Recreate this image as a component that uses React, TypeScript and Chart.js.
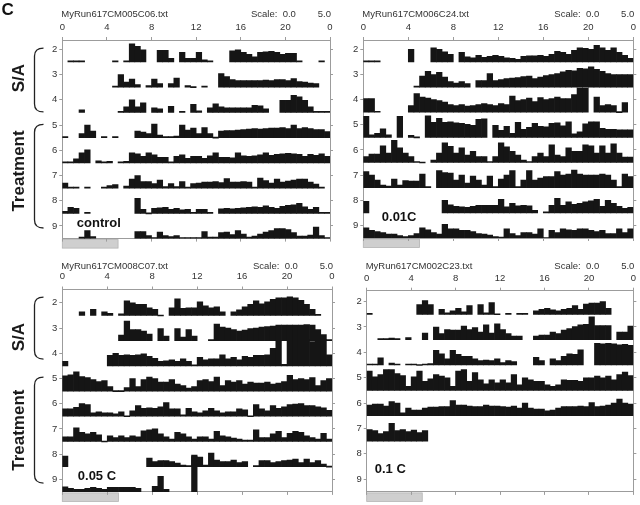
import React, { useEffect, useRef } from 'react';
import { Chart, registerables } from 'chart.js';

Chart.register(...registerables);

const _ = null;
type Row = (number | null)[];

// ---- axes / categories ----
const ROWS = [2, 3, 4, 5, 6, 7, 8, 9];
const HOUR_TICKS = [0, 4, 8, 12, 16, 20, 24];
const BIN_STARTS = Array.from({ length: 48 }, (__, i) => i / 2); // 30-min bins
const LIGHTS_ON = [0, 5];
const SCALE_MAX = 5.0; // "Scale: 0.0 5.0" -> full row height

// ---- MyRun617CM005C06 (control) ----
const c06_r2: Row = [
  _, 0, 0, 0.2, _, _, _, _, _, 0, _, 0.2,
  3.6, 3.1, 2.4, _, _, 2.3, 2.3, 0.7, _, 1.9, 0.7, 0.7,
  1.9, 0.4, 0, _, _, _, 2.2, 2.4, 1.9, 1.5, 1.0, 1.9,
  2.0, 2.1, 1.9, 1.5, 1.7, 1.7, 0, _, _, _, 0, _];
const c06_r3: Row = [
  _, _, _, _, _, _, _, _, _, 0, 2.5, 1.0,
  1.6, 0.5, _, 0.3, 1.6, 0.7, _, 0.7, 1.8, _, 0.3, 0.1,
  _, 0, _, _, 2.7, 2.1, 1.5, 1.3, 1.3, 1.3, 1.3, 1.3,
  1.4, 1.3, 1.5, 1.5, 1.3, 1.7, 1.1, 1.0, 0.8, 0.7, _, _];
const c06_r4: Row = [
  _, _, _, 0.5, _, _, _, _, _, _, 0.2, 1.1,
  2.5, 1.1, 1.9, _, 0.9, 0.7, _, 1.2, _, 0, _, 1.6,
  0.3, _, 0.9, 1.7, 1.1, 0.9, 0.9, 0.9, 0.9, 0.9, 1.4, 1.3,
  0.7, _, _, 2.4, 2.4, 3.4, 3.1, 2.4, 1.1, 0.2, 0.2, 0];
const c06_r5: Row = [
  0, _, _, 0.8, 2.5, 1.3, _, 0, _, 0, _, _,
  _, 1.3, 1.1, 0.8, 2.7, 0.5, 0, 0, 0.3, 2.5, 1.5, 1.9,
  0.8, 2.0, 0.8, 0.1, 1.3, 1.4, 1.4, 1.5, 1.6, 1.7, 1.8, 1.7,
  1.8, 1.9, 1.9, 2.0, 1.8, 2.5, 1.8, 2.0, 1.8, 1.6, 1.6, 1.2];
const c06_r6: Row = [
  0, 0, 0.8, 2.0, 2.6, _, 0.4, 0.2, 0.3, _, 0, 0.3,
  2.0, 1.8, 1.3, 2.0, 1.6, 1.1, 1.1, 0, 1.3, 1.6, 0.9, 1.3,
  1.3, 0.9, 1.4, 2.0, 1.1, 1.1, 1.0, 2.0, 1.4, 1.3, 1.4, 1.6,
  2.0, 1.5, 1.7, 1.8, 1.9, 1.8, 1.7, 1.3, 1.7, 1.5, 1.8, 1.3];
const c06_r7: Row = [
  1.0, 0, 0, _, 0, _, _, 0, 0.5, 0.7, _, 0.4,
  1.8, 2.5, 1.3, 1.3, 0.9, 1.6, 0.3, 0.9, 0.3, 1.3, 0, 0.9,
  1.0, 1.2, 1.2, 1.3, 1.1, 1.9, 1.2, 1.2, 1.3, 1.2, 0.2, 2.0,
  1.5, 1.0, 1.8, 1.2, 1.4, 1.6, 1.8, 1.8, 1.2, 0.8, 0, _];
const c06_r8: Row = [
  0.4, 1.2, 1.0, _, 0, _, _, _, _, _, _, _,
  _, 3.0, 0.8, 0.1, 1.0, 1.1, 1.2, 0.8, 1.0, 0.7, 0.8, 0.2,
  0.8, 0.8, 0, _, 0.9, 1.0, 0.9, 1.0, 1.1, 1.2, 1.3, 1.2,
  1.5, 1.2, 1.0, 1.4, 1.6, 1.7, 2.0, 1.3, 0.8, 1.2, 0, 0];
const c06_r9: Row = [
  _, _, _, 0.3, 1.6, 0.4, _, _, _, _, _, _,
  _, 1.4, 1.4, 0.6, 0, 1.3, 0.6, 0.4, 0.6, 0.2, 0, 0,
  0, 1.4, 0.3, 0.3, 1.2, 1.3, 0.8, 1.6, 0.9, 0.3, 0.5, 0.9,
  1.3, 1.6, 2.0, 2.0, 1.8, 1.2, 0.5, 0.5, 0.7, 2.3, 0.6, 0];

// ---- MyRun617CM006C24 (0.01C) ----
const c24_r2: Row = [
  0.2, 0, 0.2, _, _, _, _, _, 2.5, _, _, _,
  2.8, 2.5, 2.0, 1.5, _, 1.9, 1.0, 0.8, 1.3, 0.9, 1.1, 1.3,
  1.1, 0.8, 0.7, 0.5, 1.1, 1.2, 1.2, 1.3, 1.1, 1.5, 2.1, 1.9,
  1.5, 2.3, 2.8, 2.7, 2.5, 3.3, 2.8, 2.3, 2.8, 1.9, 1.3, 0.7];
const c24_r3: Row = [
  _, _, _, _, _, _, _, _, _, 0, 2.2, 3.1,
  2.5, 2.9, 2.0, 1.1, 0.8, 1.1, 0.7, _, 1.3, 1.3, 2.7, 1.3,
  1.5, 1.7, 1.8, 1.9, 2.1, 2.2, 1.7, 2.0, 2.3, 2.5, 2.7, 3.0,
  3.3, 3.2, 3.7, 3.6, 4.0, 3.5, 3.1, 2.7, 2.5, 2.5, 2.5, 2.5];
const c24_r4: Row = [
  2.7, 2.7, 0, _, _, _, _, _, 1.3, 3.7, 3.0, 2.8,
  2.5, 2.3, 2.0, 1.5, 1.3, 1.5, 1.2, 1.3, 1.5, 1.7, 1.5, 1.3,
  1.7, 1.5, 3.2, 2.3, 2.5, 2.8, 2.1, 2.9, 2.5, 2.7, 3.0, 2.7,
  2.7, 3.5, 4.8, 4.8, _, 3.0, 1.3, 1.5, 1.3, 0.1, 1.9, _];
const c24_r5: Row = [
  4.2, 0.5, 0.8, 1.7, 0.5, _, 4.2, _, 0.4, 0.1, _, 4.3,
  3.0, 3.8, 3.0, 3.1, 2.9, 2.8, 2.6, 2.4, 3.6, 3.7, _, 2.4,
  1.4, 2.2, 0.8, 3.0, 1.6, 2.0, 2.8, 2.2, 2.1, 2.8, 2.9, 2.3,
  3.1, 0.7, 1.1, 2.7, 3.1, 3.1, 1.8, 1.6, 1.6, 1.5, 1.5, 1.5];
const c24_r6: Row = [
  1.2, 1.7, 1.7, 3.3, 1.9, 4.4, 2.9, 1.9, 1.2, 0.2, 0.1, _,
  0.5, 1.9, 3.9, 3.2, 1.9, 2.9, 1.5, 2.2, 1.2, 1.2, 0.2, 1.2,
  3.9, 3.1, 2.2, 1.5, 0.5, 0.2, 1.2, 1.9, 1.2, 3.5, 1.5, 1.2,
  2.9, 2.2, 2.2, 3.5, 3.3, 1.9, 3.3, 1.9, 3.7, 1.9, 1.1, 1.1];
const c24_r7: Row = [
  3.2, 2.5, 1.5, 0.5, 0.3, 1.7, 0.5, 1.4, 1.3, 1.3, 2.7, 0.2,
  _, 3.4, 3.0, 2.9, 1.5, 2.5, 0.9, 2.3, 1.5, 0.5, 2.3, 0.2,
  1.7, 2.5, 3.4, 0.2, 1.5, 3.4, 1.5, 1.9, 2.2, 2.2, 3.2, 2.5,
  2.7, 3.5, 2.7, 2.5, 2.5, 2.5, 2.7, 2.5, 1.5, 0.2, 2.7, 2.2];
const c24_r8: Row = [
  2.3, _, _, _, _, _, _, _, _, _, _, _,
  _, _, 2.5, 1.6, 1.3, 1.2, 1.1, 1.3, 1.5, 1.5, 1.5, 1.5,
  2.7, 1.2, 1.9, 1.4, 1.5, 1.4, 0.5, _, 0, 1.5, 2.9, 1.5,
  2.2, 1.7, 1.9, 2.2, 2.4, 2.7, 1.3, 2.5, 1.9, 1.3, 0.9, 1.1];
const c24_r9: Row = [
  2.0, 1.5, 1.3, 1.1, 0.8, 0.8, 0.5, 0.3, 0.5, 0.9, 2.0, 1.6,
  1.1, 0.8, 2.7, 1.8, 1.8, 1.5, 1.5, 1.3, 0.9, 0.8, 0.6, 0.3,
  0, 1.8, 0.9, 0.5, 1.1, 1.1, 0.8, 1.8, 0.1, 1.5, 1.1, 1.8,
  1.6, 1.5, 1.8, 1.8, 1.5, 1.3, 1.5, 0.9, 0.9, 1.8, 1.1, 1.8];

// ---- MyRun617CM008C07 (0.05 C) ----
const c07_r2: Row = [
  _, _, _, 0.7, _, 1.2, _, 0.7, 0.4, _, 0.3, 2.9,
  2.5, 2.2, 2.2, 1.5, 1.2, 0.1, _, 1.5, 3.3, 1.4, 1.5, 1.5,
  2.7, 1.9, 1.5, 1.7, 0.7, _, 0.7, 1.1, 1.7, 2.2, 2.9, 2.3,
  2.7, 3.2, 3.5, 3.5, 3.7, 3.5, 3.0, 2.2, 1.2, 0.2, _, _];
const c07_r3: Row = [
  _, _, _, _, _, _, _, _, _, _, 1.1, 3.9,
  2.2, 2.2, 1.9, 1.3, _, 2.4, 0.9, _, 2.4, 0.7, 2.2, 0.9,
  _, _, 0, 3.3, 2.7, 2.5, 2.2, 1.9, 2.1, 2.4, 2.5, 2.7,
  2.8, 2.9, 3.1, 3.1, 3.1, 3.1, 3.1, 3.2, 3.1, 2.2, 1.2, 0];
const c07_r4: Row = [
  0.9, _, _, _, _, _, _, _, 2.1, 2.5, 2.1, 2.2,
  2.1, 2.2, 2.4, 1.9, 1.5, 0.9, 1.0, 1.2, 0.9, 1.4, 0.9, 0,
  1.7, 1.2, 1.4, 1.4, 2.2, 1.4, 1.7, 1.2, 1.9, 1.7, 2.1, 2.1,
  2.2, 3.5, 5.0, 0.3, 5.2, 5.2, 5.2, 5.2, 4.8, 5.2, 5.2, 2.2];
const c07_r5: Row = [
  3.0, 3.2, 3.8, 2.9, 2.7, 2.3, 1.9, 2.1, 0.9, 0.1, 0.1, 0.7,
  2.5, 0.9, 2.3, 2.8, 2.5, 1.8, 1.8, 2.3, 1.4, 1.1, 0.6, 0.9,
  2.1, 2.3, 1.9, 2.8, 1.1, 2.1, 1.8, 2.1, 1.4, 1.8, 1.6, 1.6,
  1.8, 1.4, 1.6, 1.9, 3.1, 2.3, 2.5, 2.3, 2.7, 1.1, 2.1, 2.5];
const c07_r6: Row = [
  1.5, 1.5, 1.8, 2.5, 2.3, 0.7, 0.9, 0.7, 0.7, 0.5, 0.9, 0.1,
  1.1, 2.1, 1.6, 1.7, 1.6, 1.9, 2.7, 1.5, 1.5, 0.3, 1.6, 0.9,
  0.7, 1.1, 1.6, 1.1, 0.7, 0.9, 0.9, 1.5, 1.3, 0.1, 2.3, 1.5,
  1.1, 2.1, 1.6, 1.9, 2.3, 2.4, 2.5, 2.1, 2.1, 1.9, 1.7, 1.2];
const c07_r7: Row = [
  0.9, 0.9, 2.7, 1.8, 1.5, 1.8, 1.3, 0.1, 1.1, 0.8, 1.1, 0.8,
  1.1, 0.9, 2.1, 2.3, 2.5, 1.5, 0.9, 0.5, 1.8, 1.5, 0.9, 0.5,
  0.9, 0.9, 0.5, 2.0, 1.1, 0.9, 0.7, 0.5, 0.3, 0.3, 2.3, 0.8,
  0.8, 1.5, 2.0, 0.8, 1.6, 2.0, 1.8, 1.1, 0.8, 0.5, 1.6, 0.5];
const c07_r8: Row = [
  2.1, _, _, _, _, _, _, _, _, _, _, _,
  _, _, _, 1.7, 1.0, 1.2, 1.2, 1.0, 0.7, 0.3, 0, 2.0,
  1.9, 0.3, 2.7, 1.3, 1.0, 1.0, 1.3, 0.8, 1.0, _, 0, 1.2,
  1.2, 0.8, 1.0, 1.2, 1.3, 1.5, 0.8, 1.5, 0.8, 1.2, 0.5, 0.1];
const c07_r9: Row = [
  1.0, 0.7, 0.5, 0.5, 0.7, 0.9, 0.7, 0.5, 0.9, 0.9, 0.9, 0.9,
  0.9, 0.7, _, _, 1.1, 3.1, 0.5, _, _, _, _, 7.3];

// ---- MyRun617CM002C23 (0.1 C) ----
const c23_r2: Row = [
  0.2, _, _, _, _, _, _, _, _, 1.9, 2.7, 1.9,
  _, 1.0, 0.3, 0.7, 1.2, 0.5, 1.7, _, 1.9, 0.3, 2.3, 0.1,
  _, 0.2, _, 0.2, 0.2, _, 0.7, 1.0, 1.2, 0.9, 0.7, 1.0,
  1.2, 1.7, 1.0, 2.0, 2.2, 2.2, 2.5, 1.2, _, _, _, _];
const c23_r3: Row = [
  _, _, 0, 0.2, 0.3, 0.2, _, 0.4, _, _, 1.3, _,
  2.5, 1.2, 2.0, 1.9, 1.9, 2.7, 2.0, 2.4, 1.5, 2.9, 1.3, 3.1,
  2.0, 1.2, 0.7, 0.7, _, _, 0.7, 0.9, 0.9, 1.5, 1.2, 1.9,
  2.2, 2.6, 2.9, 3.0, 4.5, 2.8, 2.8, 2.8, _, 1.5, 1.5, 2.7];
const c23_r4: Row = [
  0, 0, 1.4, _, 0.4, 0.2, _, 0, 0, 0.1, 0.2, 0.3,
  2.9, 2.2, 1.2, 2.9, 2.1, 1.7, 1.7, 1.2, 0.9, 1.0, 0.9, 1.2,
  0.5, 0.9, 0.7, _, _, _, 1.5, 0.9, _, 1.2, 0.9, 1.7,
  2.2, 2.1, 3.0, _, _, 4.3, 4.2, 4.3, 4.2, 4.0, 4.1, 3.9];
const c23_r5: Row = [
  3.8, 2.7, 3.1, 4.1, 4.1, 3.3, 2.9, 0.8, 2.7, 3.8, 1.8, 2.3,
  3.1, 2.8, 2.5, 0.8, 3.8, 4.1, 1.8, 3.5, 2.1, 1.3, 2.1, 1.5,
  2.1, 1.5, 3.1, 1.1, 2.5, 2.1, 1.8, 1.8, 1.1, 0.8, 1.1, 2.1,
  2.0, 2.0, 1.8, 2.5, 2.5, 2.8, 2.5, 2.8, 2.1, 3.1, 3.6, 2.9];
const c23_r6: Row = [
  2.1, 2.3, 2.3, 1.9, 2.8, 2.5, 0.6, 1.5, 1.1, 1.1, 1.5, 1.7,
  1.7, 1.8, 1.8, 3.0, 2.1, 2.1, 1.9, 1.8, 1.8, 2.1, 1.9, 1.9,
  1.8, 1.7, 1.9, 1.5, 2.5, 1.5, 1.3, 1.3, 1.0, 1.1, 1.5, 1.8,
  1.8, 1.8, 1.9, 1.8, 2.6, 1.8, 1.9, 2.1, 2.5, 3.3, 2.5, 2.3];
const c23_r7: Row = [2.3, 2.1, 1.5, 1.9, 3.5, 2.1, 2.3, 1.9, 2.2, 1.7, 2.1];
const c23_r8: Row = [];
const c23_r9: Row = [];

// ---- styling ----
const FONT = '"Liberation Sans", Arial, Helvetica, sans-serif';
const AXIS = '#9c9c9c';
const INK = '#151515';
const TEXT = '#333333';

interface Group { text: string; mid: number; from: number; to: number }
interface Panel {
  title: string;
  tag: string;
  rows: Row[];
  yMin: number;
  box: { x: number; y: number; w: number; h: number };
  area: { l: number; r: number; t: number; b: number };
  tagAt: { dx: number; dy: number };
  groups?: Group[];
  corner?: string;
}

const PANELS: Panel[] = [
  {
    title: 'MyRun617CM005C06.txt', tag: 'control',
    rows: [c06_r2, c06_r3, c06_r4, c06_r5, c06_r6, c06_r7, c06_r8, c06_r9],
    yMin: 1.63,
    box: { x: 0, y: 0, w: 345, h: 252 },
    area: { l: 62.3, r: 330, t: 40, b: 238.6 },
    tagAt: { dx: 14.5, dy: 183 },
    groups: [
      { text: 'S/A', mid: 3.14, from: 1.95, to: 4.48 },
      { text: 'Treatment', mid: 6.82, from: 4.97, to: 9.08 },
    ],
    corner: 'C',
  },
  {
    title: 'MyRun617CM006C24.txt', tag: '0.01C',
    rows: [c24_r2, c24_r3, c24_r4, c24_r5, c24_r6, c24_r7, c24_r8, c24_r9],
    yMin: 1.63,
    box: { x: 330, y: 0, w: 310, h: 252 },
    area: { l: 363.3, r: 633.3, t: 40, b: 238 },
    tagAt: { dx: 18.5, dy: 177 },
  },
  {
    title: 'MyRun617CM008C07.txt', tag: '0.05 C',
    rows: [c07_r2, c07_r3, c07_r4, c07_r5, c07_r6, c07_r7, c07_r8, c07_r9],
    yMin: 1.47,
    box: { x: 0, y: 252, w: 345, h: 253 },
    area: { l: 62.3, r: 332, t: 289.5, b: 491.9 },
    tagAt: { dx: 15.5, dy: 187 },
    groups: [
      { text: 'S/A', mid: 3.36, from: 1.77, to: 4.23 },
      { text: 'Treatment', mid: 7.05, from: 4.95, to: 9.15 },
    ],
  },
  {
    title: 'MyRun617CM002C23.txt', tag: '0.1 C',
    rows: [c23_r2, c23_r3, c23_r4, c23_r5, c23_r6, c23_r7, c23_r8, c23_r9],
    yMin: 1.57,
    box: { x: 330, y: 252, w: 310, h: 253 },
    area: { l: 366.7, r: 635, t: 290.7, b: 491.9 },
    tagAt: { dx: 8, dy: 178.5 },
  },
];

function drawBrace(ctx: CanvasRenderingContext2D, x: number, y0: number, y1: number) {
  ctx.beginPath();
  ctx.moveTo(x + 9, y0);
  ctx.quadraticCurveTo(x, y0, x, y0 + 8);
  ctx.lineTo(x, y1 - 8);
  ctx.quadraticCurveTo(x, y1, x + 9, y1);
  ctx.stroke();
}

function ActogramPanel({ p }: { p: Panel }) {
  const ref = useRef<HTMLCanvasElement | null>(null);

  useEffect(() => {
    const canvas = ref.current;
    if (!canvas) return;
    const YL = 18, YR = 5, XT = 22, XB = 12;
    const padding = {
      left: p.area.l - p.box.x - YL,
      right: p.box.x + p.box.w - p.area.r - YR,
      top: p.area.t - p.box.y - XT,
      bottom: p.box.y + p.box.h - p.area.b - XB,
    };

    const datasets = ROWS.map((row, i) => {
      const vals = p.rows[i];
      const base = row + 0.5;
      return {
        type: 'bar',
        label: String(row),
        xAxisID: 'x',
        yAxisID: 'y',
        data: BIN_STARTS.map((h, j) => {
          const v = vals[j];
          return { x: h + 0.25, y: v == null ? null : [base, base - v / SCALE_MAX] };
        }),
        backgroundColor: INK,
        borderWidth: 0,
        grouped: false,
        barPercentage: 1,
        categoryPercentage: 1,
        minBarLength: 1,
        inflateAmount: 0.33,
      };
    });

    const extras = {
      id: 'extras',
      beforeDraw(chart: any) {
        const { ctx, chartArea: a } = chart;
        const xs = chart.scales.x;
        const x0 = xs.getPixelForValue(LIGHTS_ON[0]);
        const x1 = xs.getPixelForValue(LIGHTS_ON[1]);
        ctx.save();
        ctx.fillStyle = '#cfcfcf';
        ctx.fillRect(x0, a.bottom + 1, x1 - x0, 8.5);
        ctx.strokeStyle = '#b4b4b4';
        ctx.lineWidth = 0.8;
        ctx.strokeRect(x0, a.bottom + 1, x1 - x0, 8.5);
        ctx.restore();
      },
      afterDraw(chart: any) {
        const { ctx, chartArea: a } = chart;
        const ys = chart.scales.y;
        ctx.save();
        ctx.textBaseline = 'middle';
        ctx.fillStyle = TEXT;
        ctx.font = `9.5px ${FONT}`;
        ctx.textAlign = 'left';
        ctx.fillText(p.title, a.left - 1, 14);
        ctx.fillText('Scale:  0.0', a.right - 79, 14);
        ctx.textAlign = 'right';
        ctx.fillText('5.0', a.right + 1, 14);

        ctx.fillStyle = '#111';
        ctx.font = `bold 13px ${FONT}`;
        ctx.textAlign = 'left';
        ctx.fillText(p.tag, a.left + p.tagAt.dx, a.top + p.tagAt.dy);

        if (p.groups) {
          ctx.strokeStyle = '#222';
          ctx.lineWidth = 1.3;
          for (const g of p.groups) {
            drawBrace(ctx, 34.5, ys.getPixelForValue(g.from), ys.getPixelForValue(g.to));
            ctx.save();
            ctx.translate(19.5, ys.getPixelForValue(g.mid));
            ctx.rotate(-Math.PI / 2);
            ctx.font = `bold 17px ${FONT}`;
            ctx.fillStyle = '#1a1a1a';
            ctx.textAlign = 'center';
            ctx.textBaseline = 'middle';
            ctx.fillText(g.text, 0, 0);
            ctx.restore();
          }
        }
        if (p.corner) {
          ctx.font = `bold 17px ${FONT}`;
          ctx.fillStyle = '#111';
          ctx.textAlign = 'left';
          ctx.fillText(p.corner, 1.5, 10);
        }
        ctx.restore();
      },
    };

    const tickFont = { family: FONT, size: 9.5 };
    const hourTicks = (s: any) => { s.ticks = HOUR_TICKS.map((v) => ({ value: v })); };
    const rowTicks = (s: any) => { s.ticks = ROWS.map((v) => ({ value: v })); };
    const grid = { drawOnChartArea: false, drawTicks: true, tickLength: 3, color: AXIS, lineWidth: 1, offset: false };
    const border = { display: true, color: AXIS, width: 1 };

    const chart = new Chart(canvas, {
      type: 'bar',
      data: { datasets } as any,
      options: {
        animation: false,
        responsive: false,
        maintainAspectRatio: false,
        devicePixelRatio: 1,
        events: [],
        layout: { padding },
        plugins: { legend: { display: false }, tooltip: { enabled: false } },
        scales: {
          x: {
            type: 'linear', position: 'top', min: 0, max: 24, offset: false,
            afterBuildTicks: hourTicks,
            afterFit: (s: any) => { s.height = XT; },
            ticks: {
              autoSkip: false, maxRotation: 0, padding: 4, font: tickFont, color: TEXT,
              callback: (v: any) => (v === 24 ? '0' : String(v)),
            },
            grid, border,
          },
          xb: {
            type: 'linear', position: 'bottom', min: 0, max: 24, offset: false,
            afterBuildTicks: hourTicks,
            afterFit: (s: any) => { s.height = XB; },
            ticks: { display: false },
            grid, border,
          },
          y: {
            type: 'linear', position: 'left', reverse: true, min: p.yMin, max: 9.5,
            afterBuildTicks: rowTicks,
            afterFit: (s: any) => { s.width = YL; },
            ticks: { padding: 2, font: tickFont, color: TEXT, callback: (v: any) => String(v) },
            grid, border,
          },
          yr: {
            type: 'linear', position: 'right', reverse: true, min: p.yMin, max: 9.5,
            afterBuildTicks: rowTicks,
            afterFit: (s: any) => { s.width = YR; },
            ticks: { display: false },
            grid, border,
          },
        },
      } as any,
      plugins: [extras],
    });
    return () => chart.destroy();
  }, [p]);

  return (
    <canvas
      ref={ref}
      width={p.box.w}
      height={p.box.h}
      style={{ position: 'absolute', left: p.box.x, top: p.box.y, width: p.box.w, height: p.box.h }}
    />
  );
}

export default function App() {
  return (
    <div style={{ position: 'absolute', left: 0, top: 0, width: 640, height: 505, background: '#fff', overflow: 'hidden' }}>
      {PANELS.map((p, i) => (
        <ActogramPanel key={i} p={p} />
      ))}
    </div>
  );
}
